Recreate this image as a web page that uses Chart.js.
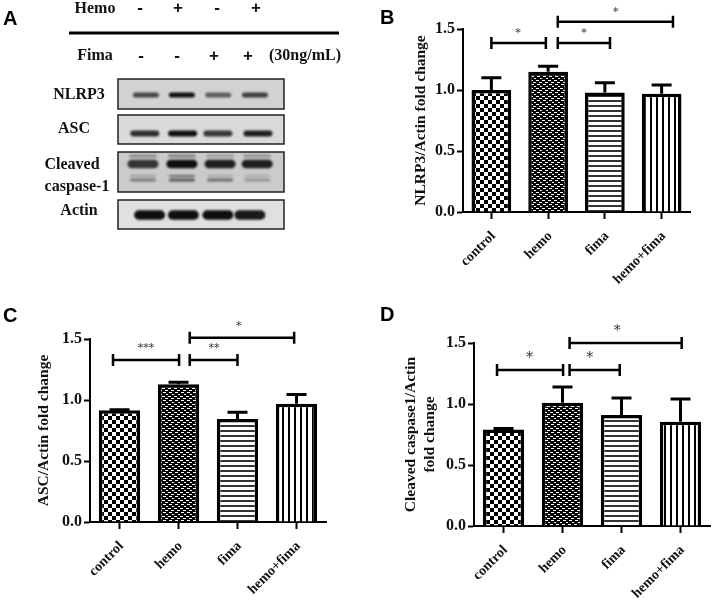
<!DOCTYPE html>
<html lang="en">
<head>
<meta charset="UTF-8">
<title>Western blot and fold change</title>
<script src="https://cdn.jsdelivr.net/npm/chart.js"></script>
<style>
    html, body { margin: 0; padding: 0; background: #fff; }
    body { position: relative; width: 712px; height: 600px; overflow: hidden; }
    canvas { position: absolute; filter: blur(0.4px); }
</style>
</head>
<body>
<canvas id="panelA" width="370" height="240" style="left:0;top:0"></canvas>
<canvas id="panelB" width="332" height="300" style="left:380px;top:0"></canvas>
<canvas id="panelC" width="340" height="300" style="left:0;top:300px"></canvas>
<canvas id="panelD" width="342" height="300" style="left:370px;top:300px"></canvas>

<script>
    // values
    const categories = ['control', 'hemo', 'fima', 'hemo+fima'];
    const yTicks = [0, 0.5, 1, 1.5];

    const nlrp3Values = [1.0, 1.15, 0.98, 0.97];
    const nlrp3ErrorTops = [1.10, 1.195, 1.06, 1.04];
    const ascValues = [0.915, 1.13, 0.845, 0.97];
    const ascErrorTops = [0.92, 1.145, 0.90, 1.045];
    const caspaseValues = [0.79, 1.01, 0.91, 0.855];
    const caspaseErrorTops = [0.80, 1.14, 1.05, 1.04];

    // significance brackets: category index from/to, height in axis units, label, label position
    const nlrp3From = [0, 1.17, 1.17];
    const nlrp3To = [0.96, 2.09, 3.2];
    const nlrp3Height = [1.385, 1.385, 1.56];
    const nlrp3Stars = ['*', '*', '*'];
    const nlrp3StarAt = [0.47, 1.63, 2.19];

    const ascFrom = [-0.11, 1.19, 1.19];
    const ascTo = [1.01, 2.0, 2.96];
    const ascHeight = [1.328, 1.328, 1.51];
    const ascStars = ['***', '**', '*'];
    const ascStarAt = [0.45, 1.6, 2.02];

    const caspaseFrom = [-0.11, 1.12, 1.12];
    const caspaseTo = [1.01, 1.97, 3.02];
    const caspaseHeight = [1.279, 1.279, 1.5];
    const caspaseStars = ['*', '*', '*'];
    const caspaseStarAt = [0.44, 1.46, 1.93];

    // blot band strength per lane, 0..1
    const nlrp3Bands = [0.72, 1, 0.6, 0.76];
    const ascBands = [0.85, 1, 0.8, 0.92];
    const caspaseUpper = [0.3, 0.35, 0.22, 0.28];
    const caspaseMain = [0.8, 1, 0.92, 0.92];
    const caspaseLower1 = [0.22, 0.45, 0.18, 0.15];
    const caspaseLower2 = [0.42, 0.6, 0.5, 0.28];
    const actinBands = [1, 1, 1, 0.95];
    const nlrp3Lanes = [0, 0.98, 1.97, 2.97];
    const ascLanes = [-0.03, 1, 1.96, 3.05];
    const caspaseLanes = [-0.08, 0.98, 2.02, 3.03];
    const actinLanes = [0.1, 1.02, 1.96, 2.83];
    const hemoSigns = ['-', '+', '-', '+'];
    const fimaSigns = ['-', '-', '+', '+'];

    const serif = '"Liberation Serif", serif';
    const starSerif = '"DejaVu Serif", serif';

    function patternFrom(w, h, paint) {
        const c = document.createElement('canvas');
        c.width = w;
        c.height = h;
        const g = c.getContext('2d');
        g.fillStyle = '#fff';
        g.fillRect(0, 0, w, h);
        g.fillStyle = '#000';
        paint(g);
        return g.createPattern(c, 'repeat');
    }

    const checker = patternFrom(8, 8, g => {
        g.fillRect(0, 0, 4, 4);
        g.fillRect(4, 4, 4, 4);
    });
    const dense = patternFrom(6, 8, g => {
        g.fillRect(0, 0, 6, 8);
        g.fillStyle = '#fff';
        g.fillRect(0, 0, 3, 1);
        g.fillRect(3, 2, 3, 1);
        g.fillRect(1, 4, 3, 1);
        g.fillRect(4, 6, 2, 1);
    });
    const horizontal = patternFrom(5, 5, g => {
        g.fillStyle = '#333';
        g.fillRect(0, 0, 5, 2);
    });
    const vertical = patternFrom(6, 5, g => {
        g.fillRect(0, 0, 2, 5);
    });

    // error bars, brackets, stars and the panel letter
    const annotate = {
        id: 'annotate',
        afterDatasetsDraw(chart, args, o) {
            const { ctx, scales: { x, y } } = chart;
            ctx.save();
            ctx.strokeStyle = '#000';
            ctx.lineWidth = 3;
            o.errorTops.forEach((top, i) => {
                const px = x.getPixelForValue(i);
                const from = y.getPixelForValue(o.values[i]);
                const to = y.getPixelForValue(top);
                ctx.beginPath();
                ctx.moveTo(px, from);
                ctx.lineTo(px, to);
                ctx.moveTo(px - 10, to);
                ctx.lineTo(px + 10, to);
                ctx.stroke();
            });
            ctx.lineWidth = 2.5;
            o.from.forEach((start, i) => {
                const x0 = x.getPixelForValue(start);
                const x1 = x.getPixelForValue(o.to[i]);
                const py = y.getPixelForValue(o.height[i]);
                ctx.beginPath();
                ctx.moveTo(x0, py);
                ctx.lineTo(x1, py);
                ctx.moveTo(x0, py - 6);
                ctx.lineTo(x0, py + 6);
                ctx.moveTo(x1, py - 6);
                ctx.lineTo(x1, py + 6);
                ctx.stroke();
                ctx.fillStyle = '#333';
                ctx.font = o.starFont;
                ctx.textAlign = 'center';
                ctx.textBaseline = 'middle';
                ctx.fillText(o.stars[i], x.getPixelForValue(o.starAt[i]), py - o.starGap);
            });
            ctx.fillStyle = '#000';
            ctx.font = 'bold 20px "Liberation Sans", sans-serif';
            ctx.textAlign = 'left';
            ctx.textBaseline = 'middle';
            ctx.fillText(o.letter, o.letterX, o.letterY);
            ctx.restore();
        }
    };

    function barPanel(id, p) {
        new Chart(document.getElementById(id), {
            type: 'bar',
            data: {
                labels: categories,
                datasets: [{
                    data: p.values,
                    backgroundColor: [checker, dense, horizontal, vertical],
                    borderColor: '#000',
                    borderWidth: 3.5,
                    borderSkipped: 'bottom',
                    barPercentage: 1,
                    categoryPercentage: p.barShare
                }]
            },
            options: {
                responsive: false,
                animation: false,
                layout: { padding: { top: p.top, right: p.right, left: 0, bottom: 0 } },
                plugins: {
                    legend: { display: false },
                    tooltip: { enabled: false },
                    annotate: {
                        values: p.values, errorTops: p.errorTops,
                        from: p.from, to: p.to, height: p.height,
                        stars: p.stars, starAt: p.starAt, starGap: p.starGap, starFont: p.starFont,
                        letter: p.letter, letterX: p.letterX, letterY: p.letterY
                    }
                },
                scales: {
                    x: {
                        afterFit: s => { s.height = p.bottom; },
                        border: { color: '#000', width: 2 },
                        grid: { offset: false, drawOnChartArea: false, drawTicks: true, tickLength: 7, tickWidth: 2, tickColor: '#000' },
                        ticks: {
                            autoSkip: false, minRotation: 45, maxRotation: 45, padding: 9, labelOffset: 2,
                            color: '#111', font: { family: serif, size: 14, weight: 'bold' }
                        }
                    },
                    y: {
                        min: 0,
                        max: 1.5,
                        afterBuildTicks: s => { s.ticks = yTicks.map(value => ({ value })); },
                        afterFit: s => { s.width = p.left; },
                        border: { color: '#000', width: 2 },
                        grid: { drawOnChartArea: false, drawTicks: true, tickLength: 6, tickWidth: 2, tickColor: '#000' },
                        ticks: {
                            padding: 2, color: '#111',
                            font: { family: serif, size: 16, weight: 'bold' },
                            callback: v => v.toFixed(1)
                        },
                        title: {
                            display: true,
                            text: p.title,
                            color: '#111',
                            font: { family: serif, size: 15.5, weight: 'bold', lineHeight: 1.25 },
                            padding: { top: p.titleGap, bottom: 0 }
                        }
                    }
                }
            },
            plugins: [annotate]
        });
    }

    barPanel('panelB', {
        values: nlrp3Values, errorTops: nlrp3ErrorTops,
        from: nlrp3From, to: nlrp3To, height: nlrp3Height,
        stars: nlrp3Stars, starAt: nlrp3StarAt, starGap: 10, starFont: '11px ' + starSerif,
        title: 'NLRP3/Actin fold change', titleGap: 31,
        letter: 'B', letterX: 0, letterY: 18,
        left: 83, top: 29, right: 22, bottom: 88, barShare: 0.7
    });
    barPanel('panelC', {
        values: ascValues, errorTops: ascErrorTops,
        from: ascFrom, to: ascTo, height: ascHeight,
        stars: ascStars, starAt: ascStarAt, starGap: 12, starFont: '11px ' + starSerif,
        title: 'ASC/Actin fold change', titleGap: 34,
        letter: 'C', letterX: 3, letterY: 16,
        left: 90, top: 39, right: 14, bottom: 78, barShare: 0.7
    });
    barPanel('panelD', {
        values: caspaseValues, errorTops: caspaseErrorTops,
        from: caspaseFrom, to: caspaseTo, height: caspaseHeight,
        stars: caspaseStars, starAt: caspaseStarAt, starGap: 12, starFont: '14px ' + starSerif,
        title: ['Cleaved caspase1/Actin', 'fold change'], titleGap: 31,
        letter: 'D', letterX: 10, letterY: 15,
        left: 104, top: 43, right: 2, bottom: 74, barShare: 0.7
    });

    // panel A: lanes across, rows in the same units as the box layout below
    function band(ctx, x, y, strength, length, thick, blur) {
        ctx.save();
        ctx.filter = 'blur(' + blur + 'px)';
        ctx.fillStyle = 'rgba(15,15,15,' + Math.min(1, strength) + ')';
        ctx.beginPath();
        ctx.roundRect(x - length / 2, y - thick / 2, length, thick, thick / 2);
        ctx.fill();
        ctx.restore();
    }

    const blotBoxes = [
        { top: 0, bottom: 30, fill: '#d2d2d2' },
        { top: 36, bottom: 65, fill: '#dadada' },
        { top: 73, bottom: 113, fill: '#cbcbcb' },
        { top: 121, bottom: 150, fill: '#e0e0e0' }
    ];
    const blotRows = [
        { y: 16, bands: nlrp3Bands, at: nlrp3Lanes, length: 26, thick: 5, blur: 1 },
        { y: 54.5, bands: ascBands, at: ascLanes, length: 29, thick: 6, blur: 1 },
        { y: 77, bands: caspaseUpper, at: caspaseLanes, length: 28, thick: 3.5, blur: 1.2 },
        { y: 85, bands: caspaseMain, at: caspaseLanes, length: 31, thick: 8.5, blur: 1.1 },
        { y: 97, bands: caspaseLower1, at: caspaseLanes, length: 26, thick: 2.5, blur: 1 },
        { y: 101, bands: caspaseLower2, at: caspaseLanes, length: 26, thick: 3, blur: 0.9 },
        { y: 136, bands: actinBands, at: actinLanes, length: 31, thick: 9.5, blur: 1 }
    ];
    const blotLabels = [
        { text: 'NLRP3', x: 79, y: 95 },
        { text: 'ASC', x: 74, y: 129 },
        { text: 'Cleaved', x: 72, y: 165 },
        { text: 'caspase-1', x: 77, y: 187 },
        { text: 'Actin', x: 79, y: 211 }
    ];
    const hemoSignX = [140, 178, 217, 256];
    const fimaSignX = [141, 177, 214, 248];

    new Chart(document.getElementById('panelA'), {
        type: 'scatter',
        data: { datasets: [{ data: [] }] },
        options: {
            responsive: false,
            animation: false,
            layout: { padding: { left: 118, right: 86, top: 79, bottom: 11 } },
            plugins: { legend: { display: false }, tooltip: { enabled: false } },
            scales: {
                x: { display: false, min: -0.76, max: 3.76 },
                y: { display: false, min: 0, max: 150, reverse: true }
            }
        },
        plugins: [{
            id: 'blot',
            afterDraw(chart) {
                const { ctx, scales: { x, y } } = chart;
                ctx.save();
                blotBoxes.forEach(b => {
                    const top = y.getPixelForValue(b.top);
                    const h = y.getPixelForValue(b.bottom) - top;
                    ctx.fillStyle = b.fill;
                    ctx.fillRect(x.left, top, x.right - x.left, h);
                });
                blotRows.forEach(r => {
                    r.bands.forEach((s, l) => {
                        band(ctx, x.getPixelForValue(r.at[l]), y.getPixelForValue(r.y), s, r.length, r.thick, r.blur);
                    });
                });
                ctx.strokeStyle = '#222';
                ctx.lineWidth = 1.5;
                blotBoxes.forEach(b => {
                    const top = y.getPixelForValue(b.top);
                    const h = y.getPixelForValue(b.bottom) - top;
                    ctx.strokeRect(x.left, top, x.right - x.left, h);
                });

                ctx.fillStyle = '#111';
                ctx.textAlign = 'center';
                ctx.textBaseline = 'middle';
                ctx.font = 'bold 16px ' + serif;
                ctx.fillText('Hemo', 95, 9);
                ctx.fillText('Fima', 95, 56);
                ctx.fillText('(30ng/mL)', 305, 56);
                blotLabels.forEach(t => ctx.fillText(t.text, t.x, t.y));
                ctx.font = 'bold 17px "Liberation Sans", sans-serif';
                hemoSigns.forEach((s, i) => ctx.fillText(s, hemoSignX[i], 8));
                fimaSigns.forEach((s, i) => ctx.fillText(s, fimaSignX[i], 56));

                ctx.fillStyle = '#000';
                ctx.fillRect(69, 31.5, 270, 3);
                ctx.font = 'bold 20px "Liberation Sans", sans-serif';
                ctx.textAlign = 'left';
                ctx.fillText('A', 3, 19);
                ctx.restore();
            }
        }]
    });
</script>
</body>
</html>
